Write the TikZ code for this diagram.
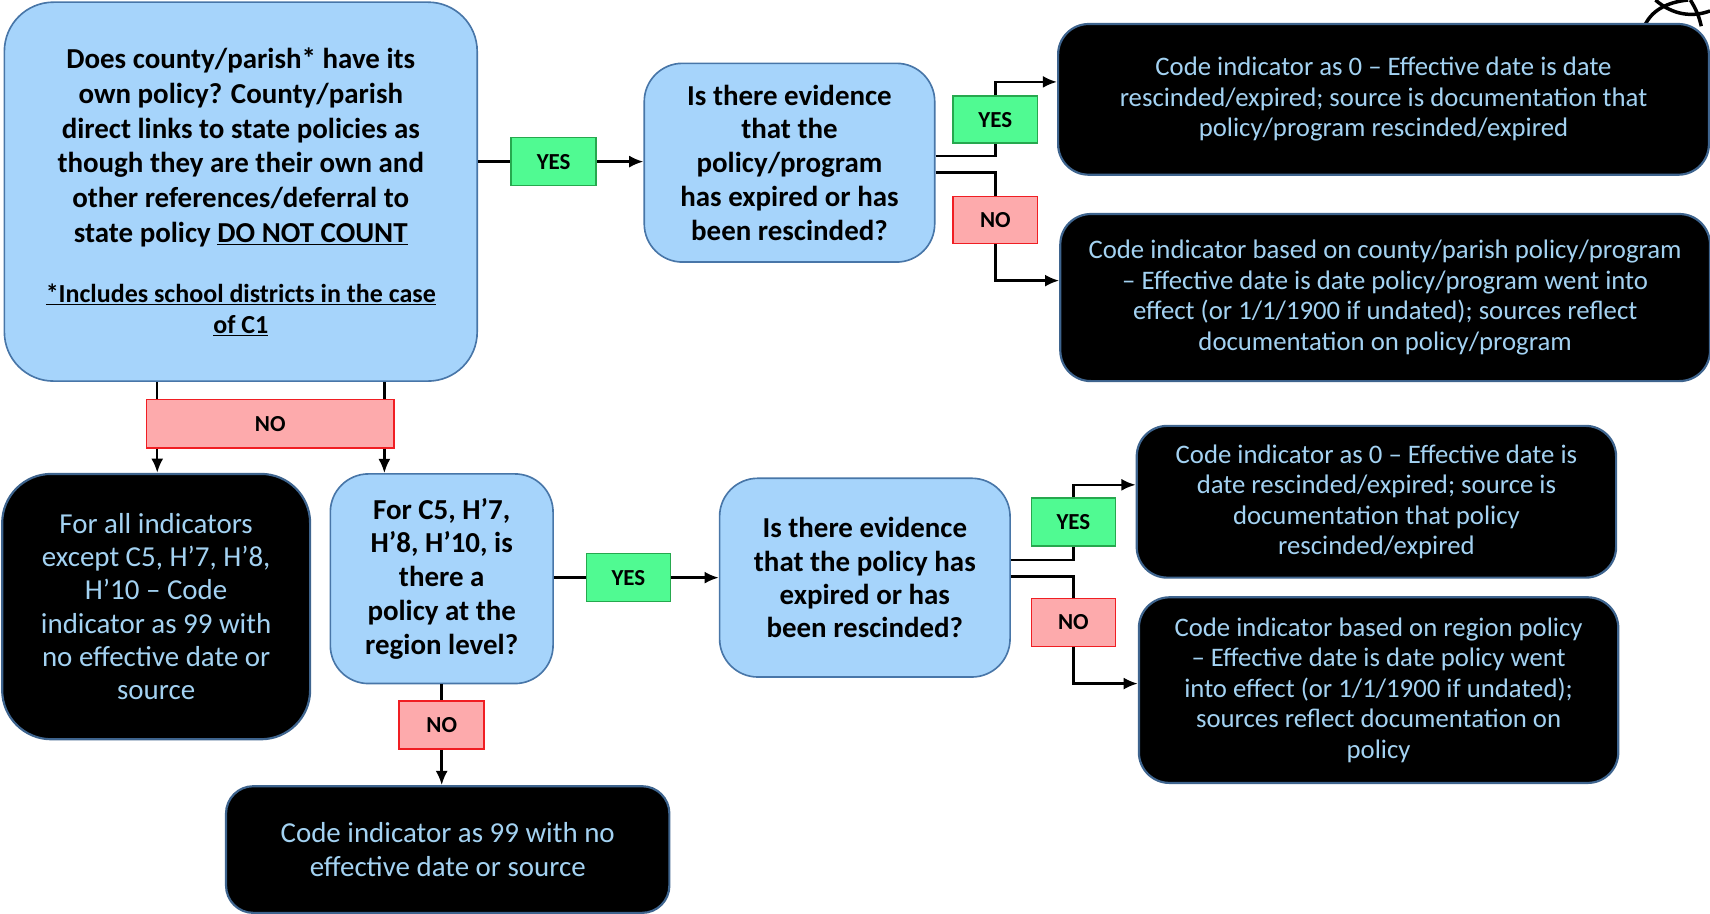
\documentclass[tikz,border=0pt]{standalone}
\usepackage{fontspec}
\setmainfont{Carlito}
\usetikzlibrary{arrows.meta}
\definecolor{qblue}{RGB}{166,212,251}
\definecolor{qborder}{RGB}{72,118,168}
\definecolor{tblue}{RGB}{163,210,242}
\definecolor{bborder}{RGB}{62,100,142}
\definecolor{yfill}{RGB}{80,250,146}
\definecolor{yborder}{RGB}{38,168,78}
\definecolor{nfill}{RGB}{253,170,172}
\definecolor{nborder}{RGB}{240,30,35}
\tikzset{
  qbox/.style={draw=qborder, fill=qblue, line width=1.5pt, rounded corners=#1,
    align=center, inner sep=0pt, text=black, font=\fontsize{26.5}{31}\selectfont\bfseries},
  qbox/.default=35pt,
  abox/.style={draw=bborder, fill=black, line width=2pt, rounded corners=#1,
    align=center, inner sep=0pt, text=tblue, font=\fontsize{24.5}{28}\selectfont},
  abox/.default=28pt,
  yeslab/.style={draw=yborder, fill=yfill, line width=1.5pt, inner sep=0pt,
    font=\fontsize{21}{23}\selectfont\bfseries},
  nolab/.style={draw=nborder, fill=nfill, line width=1.5pt, inner sep=0pt,
    font=\fontsize{21}{23}\selectfont\bfseries},
  link/.style={line width=2.2pt, draw=black},
  arr/.style={link, -{Latex[length=13pt,width=11pt]}},
}
\begin{document}
\begin{tikzpicture}[x=1pt,y=-1pt]
\useasboundingbox (0,0) rectangle (1566,837);

% stray arcs at the top right corner
\draw[line width=3.2pt] (1506,24) .. controls (1512,10) and (1526,2) .. (1546,0);
\draw[line width=3.2pt] (1516,0) .. controls (1532,14) and (1550,16) .. (1566,10);
\draw[line width=3.2pt] (1548,0) .. controls (1553,8) and (1556,15) .. (1558,24);

% question boxes
\node[qbox=45pt, minimum width=433pt, minimum height=347pt, font=\fontsize{26.5}{32}\selectfont\bfseries] (A) at (220.5,175.5)
 {Does county/parish* have its\\ own policy? County/parish\\ direct links to state policies as\\
  though they are their own and\\ other references/deferral to\\ state policy \underline{DO NOT COUNT}\\[23pt]
  {\fontsize{23.8}{28}\selectfont\underline{*Includes school districts in the case}}\\[-4pt]
  {\fontsize{23.8}{28}\selectfont\underline{of C1}}};
\node[qbox, minimum width=266pt, minimum height=182pt] (B) at (723,149)
 {Is there evidence\\ that the\\ policy/program\\ has expired or has\\ been rescinded?};
\node[qbox, minimum width=204pt, minimum height=192pt] (E) at (404.5,530)
 {For C5, H’7,\\ H’8, H’10, is\\ there a\\ policy at the\\ region level?};
\node[qbox, minimum width=266pt, minimum height=182pt, font=\fontsize{26.5}{30.5}\selectfont\bfseries] (F) at (792,529)
 {Is there evidence\\ that the policy has\\ expired or has\\ been rescinded?};

% answer boxes
\node[abox, minimum width=596pt, minimum height=138pt] (C1) at (1267,91)
 {Code indicator as 0 – Effective date is date\\ rescinded/expired; source is documentation that\\ policy/program rescinded/expired};
\node[abox, minimum width=595pt, minimum height=153pt] (C2) at (1268.5,272.5)
 {Code indicator based on county/parish policy/program\\ – Effective date is date policy/program went into\\ effect (or 1/1/1900 if undated); sources reflect\\ documentation on policy/program};
\node[abox=45pt, minimum width=282pt, minimum height=243pt, font=\fontsize{26.5}{30.5}\selectfont] (D) at (143,555.5)
 {For all indicators\\ except C5, H’7, H’8,\\ H’10 – Code\\ indicator as 99 with\\ no effective date or\\ source};
\node[abox, minimum width=439pt, minimum height=139pt] (G) at (1260.5,459.5)
 {Code indicator as 0 – Effective date is\\ date rescinded/expired; source is\\ documentation that policy\\ rescinded/expired};
\node[abox, minimum width=439pt, minimum height=170pt] (H) at (1262.5,632)
 {Code indicator based on region policy\\ – Effective date is date policy went\\ into effect (or 1/1/1900 if undated);\\ sources reflect documentation on\\ policy};
\node[abox=25pt, minimum width=406pt, minimum height=116pt, font=\fontsize{26.5}{31}\selectfont] (I) at (410,778)
 {Code indicator as 99 with no\\ effective date or source};

% yes / no labels
\node[yeslab, minimum width=78pt, minimum height=44pt] (Y1) at (507,148) {YES};
\node[yeslab, minimum width=77pt, minimum height=43pt] (Y2) at (911.5,109.5) {YES};
\node[nolab, minimum width=77pt, minimum height=43pt] (N2) at (911.5,201.5) {NO};
\node[nolab, minimum width=227pt, minimum height=44pt] (N1) at (247.5,388) {NO};
\node[yeslab, minimum width=77pt, minimum height=44pt] (Y3) at (575.5,529) {YES};
\node[yeslab, minimum width=77pt, minimum height=44pt] (Y4) at (983,478) {YES};
\node[nolab, minimum width=77pt, minimum height=44pt] (N4) at (983,570) {NO};
\node[nolab, minimum width=78pt, minimum height=44pt] (N3) at (404.5,664) {NO};

\coordinate (n1l) at (144,388);
\coordinate (n1r) at (352,388);

% connectors
\draw[link] (Y1.west -| A.east) -- (Y1.west);
\draw[arr] (Y1.east) -- (Y1.east -| B.west);
\draw[link] ([yshift=6pt]B.east) -| (Y2.south);
\draw[arr] (Y2.north) |- ([yshift=16pt]C1.west);
\draw[link] ([yshift=-9pt]B.east) -| (N2.north);
\draw[arr] (N2.south) |- ([yshift=15.5pt]C2.west);

\draw[link] (n1l |- A.south) -- (n1l |- N1.north);
\draw[link] (n1r |- A.south) -- (n1r |- N1.north);
\draw[arr] (n1l |- N1.south) -- (n1l |- D.north);
\draw[arr] (n1r |- N1.south) -- (n1r |- E.north);

\draw[link] (Y3.west -| E.east) -- (Y3.west);
\draw[arr] (Y3.east) -- (Y3.east -| F.west);
\draw[link] ([yshift=16pt]F.east) -| (Y4.south);
\draw[arr] (Y4.north) |- ([yshift=15.5pt]G.west);
\draw[link] ([yshift=1pt]F.east) -| (N4.north);
\draw[arr] (N4.south) |- ([yshift=6pt]H.west);

\draw[link] (E.south) -- (N3.north);
\draw[arr] (N3.south) -- (N3.south |- I.north);
\end{tikzpicture}
\end{document}
